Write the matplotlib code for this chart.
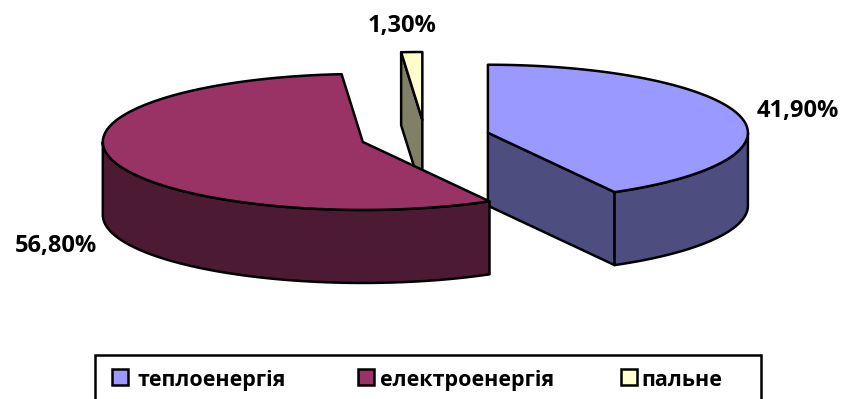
import numpy as np
import matplotlib
matplotlib.use("Agg")
import matplotlib.pyplot as plt
from matplotlib.patches import Polygon, Rectangle

# Energy consumption structure
categories = ["теплоенергія", "електроенергія", "пальне"]
shares = [41.9, 56.8, 1.3]

top_colors = ["#9999FF", "#993366", "#FFFFCC"]
side_colors = ["#4D4D80", "#4D1A33", "#808066"]

# 3D pie geometry (radius = 1 unit)
TILT = 68 / 260      # vertical squash of the ellipse
DEPTH = 73 / 260     # thickness of the pie
EXPLODE = 0.25       # radial offset of every slice
LW = 1.8

W, H = 843, 399
fig = plt.figure(figsize=(W / 100, H / 100), dpi=100)
ax = fig.add_axes([0, 0, 1, 1])
ax.set_xlim(-425 / 260, (W - 425) / 260)
ax.set_ylim(-(H - 137) / 260, 137 / 260)
ax.axis("off")

font = ["Open Sans", "DejaVu Sans"]


def rim(cx, cy, th, dz=0.0):
    th = np.atleast_1d(th)
    return np.column_stack([cx + np.sin(th), cy + TILT * np.cos(th) - dz])


def face(pts, color, z):
    ax.add_patch(Polygon(pts, closed=True, facecolor=color, edgecolor="black",
                         lw=LW, joinstyle="round", zorder=z))


total = sum(shares)
bounds = np.concatenate([[0.0], np.cumsum(shares)]) / total * 2 * np.pi

slices = []
for i, (a0, a1) in enumerate(zip(bounds[:-1], bounds[1:])):
    mid = 0.5 * (a0 + a1)
    cx = EXPLODE * np.sin(mid)
    cy = EXPLODE * TILT * np.cos(mid)
    slices.append((i, a0, a1, cx, cy))

# paint from the back of the pie to the front
slices.sort(key=lambda s: -s[4])
z = 1
for i, a0, a1, cx, cy in slices:
    c = np.array([[cx, cy]])
    cb = np.array([[cx, cy - DEPTH]])
    # radial walls facing the viewer
    for phi, visible in ((a0, np.sin(a0) < -1e-6), (a1, np.sin(a1) > 1e-6)):
        if visible:
            p = rim(cx, cy, phi)
            pb = rim(cx, cy, phi, DEPTH)
            face(np.vstack([c, p, pb, cb]), side_colors[i], z)
            z += 1
    # front part of the curved wall
    lo, hi = max(a0, np.pi / 2), min(a1, 3 * np.pi / 2)
    if hi > lo:
        th = np.linspace(lo, hi, 120)
        face(np.vstack([rim(cx, cy, th), rim(cx, cy, th[::-1], DEPTH)]),
             side_colors[i], z)
        z += 1
    # top face
    th = np.linspace(a0, a1, max(int((a1 - a0) * 80), 8))
    face(np.vstack([c, rim(cx, cy, th)]), top_colors[i], z)
    z += 1

# value labels (pixel positions of the text baselines)
label_pos = [(798, 117), (56, 252), (402, 32)]
for v, (px, py) in zip(shares, label_pos):
    txt = f"{v:.2f}".replace(".", ",") + "%"
    fig.text(px / W, 1 - py / H, txt, ha="center", va="baseline",
             fontsize=17, fontweight="bold", family=font, color="black")

# legend box, its lower edge runs past the bottom of the figure
fig.add_artist(Rectangle((95 / W, -0.1), (761 - 95) / W, 0.1 + 1 - 355 / H,
                         transform=fig.transFigure, facecolor="none",
                         edgecolor="black", lw=1.8))
box_x = [112, 358, 621]
text_x = [137, 380, 641]
for lab, col, bx, tx in zip(categories, top_colors, box_x, text_x):
    fig.add_artist(Rectangle((bx / W, 1 - 385 / H), 16 / W, 16 / H,
                             transform=fig.transFigure, facecolor=col,
                             edgecolor="black", lw=1.8))
    fig.text(tx / W, 1 - 386 / H, lab, ha="left", va="baseline",
             fontsize=15.5, fontweight="bold", family=font, color="black")

fig.savefig("out.png", dpi=100)
